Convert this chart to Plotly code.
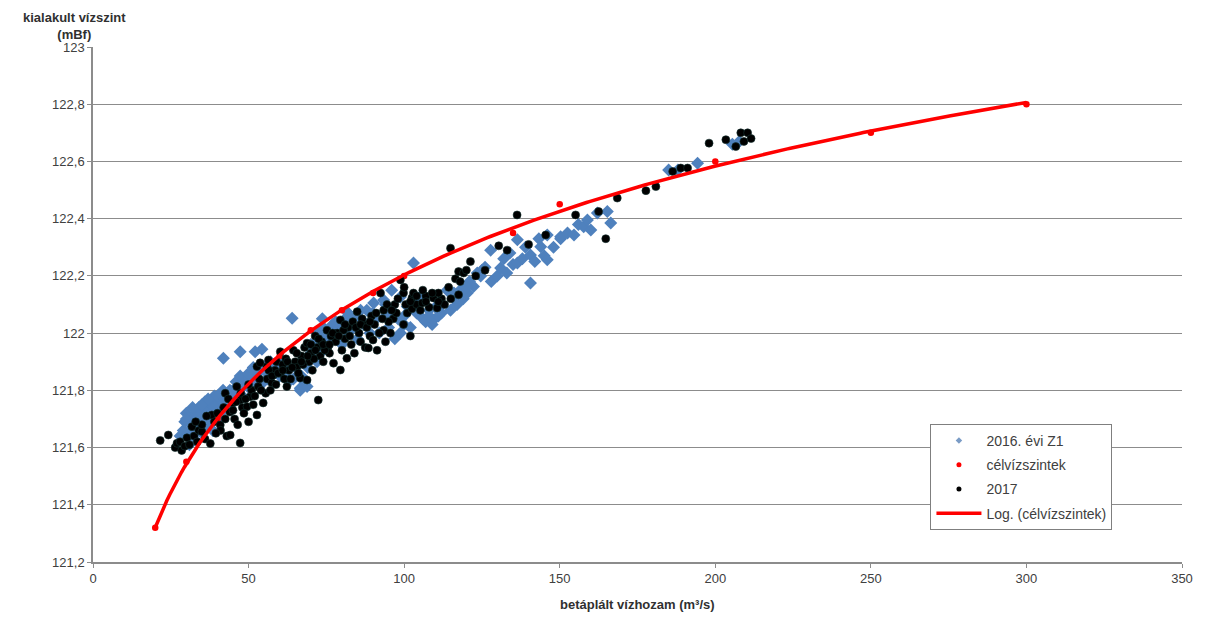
import numpy as np
import plotly.graph_objects as go

# 2016. évi Z1 (blue diamonds)
z1_x = [28, 29, 29.5, 30, 30.5, 31, 31.5, 32, 32.5, 33, 33.5, 34, 34.5, 35, 35.5, 36, 36.5, 37, 37.5, 38,
        38.5, 39, 39.5, 40, 40.5, 41, 41.8, 42, 43, 43.5, 44, 45, 45.5, 46, 47, 47.3, 48, 49, 50, 51,
        51.5, 52, 53, 54, 55, 56, 57, 58, 41.9, 47.3, 52.1, 54.3, 64,
        59, 60, 61, 62, 63, 64.4, 65, 66.6, 66.6, 67, 68, 68.8, 69, 70, 71, 72, 73, 73.7, 74, 75, 76,
        77, 78, 79, 80, 81, 82, 83.7, 84, 85, 86, 87, 88, 89, 90.2, 91, 92, 93.4, 94, 95, 96, 96,
        97, 98, 98.8, 98.8, 100, 101,
        102, 103, 104, 105.2, 106, 106.9, 108, 109, 109.4, 110, 111, 112, 113.8, 114.9, 116, 117, 118, 119,
        120.3, 121, 122.3, 123.5, 124.6, 126, 127.8, 128, 129.9, 131, 132, 133, 134, 135, 136.4, 136.4,
        138, 139, 140.6, 140.6, 142, 143.3, 143.9, 145, 146, 146, 148, 150.3, 150.3, 152.5, 154.6, 156,
        157.7, 158.9, 160, 162.1, 165.3, 166.4,
        185, 188, 194.3, 207.7, 205.5,
        30, 31, 32, 33, 34, 35, 36, 37, 38, 39, 40, 42, 44, 46, 48, 50, 53, 56, 60, 62,
        70, 72, 74, 78, 82, 86, 90, 94, 100, 104, 108, 112, 116, 120, 125]
z1_y = [121.64, 121.66, 121.69, 121.72, 121.65, 121.61, 121.68, 121.70, 121.63, 121.72, 121.67, 121.74, 121.69, 121.65, 121.72, 121.76, 121.68, 121.73, 121.70, 121.75,
        121.66, 121.78, 121.72, 121.75, 121.70, 121.77, 121.80, 121.73, 121.76, 121.79, 121.74, 121.80, 121.77, 121.83, 121.80, 121.85, 121.78, 121.83, 121.81, 121.85,
        121.88, 121.83, 121.86, 121.82, 121.87, 121.84, 121.90, 121.87, 121.912, 121.935, 121.935, 121.944, 122.052,
        121.88, 121.85, 121.90, 121.87, 121.83, 121.84, 121.88, 121.807, 121.80, 121.85, 121.83, 121.813, 121.88, 121.93, 121.96, 121.90, 121.98, 122.05, 121.94, 122.00, 121.97,
        122.03, 121.99, 122.02, 121.96, 122.05, 122.00, 122.02, 122.06, 121.98, 122.08, 122.03, 122.08, 122.00, 122.105, 122.05, 122.00, 122.116, 122.06, 122.02, 122.15, 122.08,
        121.98, 122.05, 122.00, 122.126, 122.06, 122.093,
        122.02, 122.245, 122.07, 122.128, 122.05, 122.04, 122.08, 122.03, 122.046, 122.09, 122.06, 122.10, 122.15, 122.08, 122.12, 122.10, 122.15, 122.12,
        122.14, 122.18, 122.163, 122.21, 122.20, 122.23, 122.29, 122.18, 122.20, 122.228, 122.26, 122.21, 122.28, 122.24, 122.245, 122.326,
        122.26, 122.30, 122.273, 122.175, 122.25, 122.33, 122.302, 122.27, 122.256, 122.343, 122.30, 122.33, 122.337, 122.35, 122.343, 122.38,
        122.372, 122.395, 122.36, 122.42, 122.425, 122.385,
        122.57, 122.57, 122.594, 122.67, 122.66,
        121.70, 121.66, 121.74, 121.68, 121.71, 121.75, 121.70, 121.77, 121.72, 121.74, 121.78, 121.77, 121.80, 121.78, 121.82, 121.86, 121.88, 121.89, 121.90, 121.85,
        121.96, 122.00, 122.02, 122.04, 122.07, 122.05, 122.07, 122.10, 122.03, 122.11, 122.06, 122.07, 122.14, 122.16, 122.22]

# célvízszintek (red target levels)
cel_x = [20, 30, 40, 50, 60, 70, 80, 90, 100, 135, 150, 200, 250, 300]
cel_y = [121.32, 121.55, 121.70, 121.82, 121.92, 122.01, 122.08, 122.14, 122.20, 122.35, 122.45, 122.60, 122.70, 122.80]

# 2017 (black dots)
y17_x = [21.6, 24.2, 26.4, 27, 28, 28.5, 29.5, 30.2, 31, 31.8, 32.5, 33.5, 34, 35, 35, 36, 37.7, 38.2, 39, 40.9,
         41, 42.5, 43, 44.1, 47.3, 42.5, 45, 44, 46.2, 47.3, 48, 49.5, 50.5, 51, 52.7, 53.1, 54.7, 55.5, 56, 57.5,
         58, 55.9, 60.2, 62.3, 52.7, 53.7, 56.4, 58.5, 59, 60.2, 61, 62, 63, 64.4, 65, 65.5, 66.6, 67, 68, 68.8,
         68.8, 69.5, 70, 70.5, 71.4, 72, 72.4, 73, 73.5, 74, 75.2, 75.5, 76, 77.3, 78, 78.5, 79.5, 79.5, 80, 81,
         81.6, 82, 83, 84, 84.9, 85.5, 86, 87, 87.5, 88.5, 89, 90, 90.5, 91.3, 92.4, 93.4, 93.4, 94, 95.6, 96.5,
         97, 98.8, 99.8, 99.8, 101, 102, 102.5, 102.5, 104, 105.2, 105.8, 107, 108, 109.4, 110.6, 112, 114.3, 114.9, 116.5, 117.5,
         117.5, 119.1, 121.3, 123, 126, 130.4, 133.1, 136.3, 140, 145.5, 155.1, 162.5, 164.8, 168.5, 177.7, 180.9, 186.3, 188.9, 191.1, 198,
         203.4, 206.6, 208.2, 209.2, 210.4, 211.5,
         45.5, 46.5, 48.5, 50, 51.5, 57, 58.8, 61.5, 63.5, 66, 67.5, 71, 74.5, 76.5, 80.5, 83.5, 86.5, 89.5, 92, 95,
         97.5, 100.5, 103, 106, 111, 113,
         33, 36.5, 39.5, 40, 42, 43.5, 45, 46, 47.5, 49, 50, 52, 53.5, 54, 56.5, 57.5, 59.5, 61, 62.5, 64,
         65.5, 67, 69, 70, 71.5, 72.5, 74, 76, 77, 79, 81, 82.5, 84.5, 86, 88, 89, 91, 93, 94.5, 96,
         98, 100, 102, 104, 107, 109, 111, 115, 118, 120]
y17_y = [121.625, 121.644, 121.60, 121.615, 121.62, 121.59, 121.605, 121.634, 121.61, 121.673, 121.64, 121.62, 121.66, 121.656, 121.68, 121.63, 121.614, 121.714, 121.69, 121.679,
         121.66, 121.70, 121.64, 121.644, 121.616, 121.79, 121.756, 121.724, 121.813, 121.766, 121.74, 121.743, 121.778, 121.80, 121.714, 121.813, 121.756, 121.79, 121.84, 121.826,
         121.854, 121.883, 121.86, 121.813, 121.883, 121.896, 121.906, 121.87, 121.90, 121.935, 121.89, 121.91, 121.87, 121.94, 121.90, 121.88, 121.843, 121.92, 121.95, 121.836,
         121.965, 121.90, 121.93, 121.87, 121.99, 121.95, 121.766, 121.92, 121.97, 121.90, 122.01, 121.95, 121.93, 121.895, 121.97, 122.00, 122.046, 121.871, 121.94, 121.98,
         121.912, 122.02, 121.96, 121.93, 122.075, 122.00, 121.97, 122.03, 121.95, 121.948, 121.99, 121.976, 122.03, 121.94, 122.14, 122.01, 122.08, 121.97, 122.00, 122.05,
         122.10, 122.186, 122.14, 122.03, 122.07, 121.99, 122.123, 122.085, 122.10, 122.08, 122.105, 122.13, 122.09, 122.123, 122.088, 122.12, 122.16, 122.297, 122.19, 122.215,
         122.134, 122.21, 122.25, 122.20, 122.22, 122.305, 122.29, 122.413, 122.31, 122.343, 122.413, 122.425, 122.33, 122.472, 122.498, 122.512, 122.565, 122.577, 122.577, 122.664,
         122.676, 122.652, 122.70, 122.67, 122.70, 122.68,
         121.70, 121.68, 121.72, 121.69, 121.75, 121.80, 121.82, 121.84, 121.84, 121.86, 121.89, 121.91, 121.94, 121.99, 122.01, 122.04, 122.05, 122.06, 122.00, 122.04,
         122.07, 122.10, 122.14, 122.15, 122.14, 122.10,
         121.69, 121.71, 121.65, 121.72, 121.74, 121.77, 121.73, 121.76, 121.79, 121.77, 121.82, 121.78, 121.84, 121.80, 121.87, 121.85, 121.86, 121.87, 121.90, 121.88,
         121.93, 121.90, 121.92, 121.96, 121.94, 121.98, 121.96, 121.96, 122.00, 121.99, 122.03, 121.99, 122.02, 122.03, 122.02, 122.04, 122.07, 122.05, 122.10, 122.08,
         122.12, 122.16, 122.11, 122.13, 122.11, 122.14, 122.11, 122.12, 122.18, 122.22]

x_ticks = [0, 50, 100, 150, 200, 250, 300, 350]
y_ticks = [121.2, 121.4, 121.6, 121.8, 122.0, 122.2, 122.4, 122.6, 122.8, 123.0]
y_tick_text = ["121,2", "121,4", "121,6", "121,8", "122", "122,2", "122,4", "122,6", "122,8", "123"]

BLUE = "#4F81BD"
RED = "#FF0000"
BLACK = "#000000"

# logarithmic trendline fitted to the target levels
a, b = np.polyfit(np.log(cel_x), cel_y, 1)
fit_x = np.linspace(min(cel_x), max(cel_x), 300)
fit_y = a * np.log(fit_x) + b

fig = go.Figure()
fig.add_trace(go.Scatter(x=z1_x, y=z1_y, mode="markers", name="2016. évi Z1", showlegend=False,
                         marker=dict(symbol="diamond", size=10, color=BLUE)))
fig.add_trace(go.Scatter(x=cel_x, y=cel_y, mode="markers", name="célvízszintek", showlegend=False,
                         marker=dict(symbol="circle", size=6.5, color=RED)))
fig.add_trace(go.Scatter(x=y17_x, y=y17_y, mode="markers", name="2017", showlegend=False,
                         marker=dict(symbol="circle", size=8, color=BLACK,
                                     line=dict(color="#12302f", width=0.6))))
fig.add_trace(go.Scatter(x=fit_x, y=fit_y, mode="lines", name="Log. (célvízszintek)", showlegend=False,
                         line=dict(color=RED, width=3.5)))

# legend entries (small symbols, as in the original legend)
legend_items = [
    ("2016. évi Z1", dict(mode="markers", marker=dict(symbol="diamond", size=5, color="#7a9cc6"))),
    ("célvízszintek", dict(mode="markers", marker=dict(symbol="circle", size=5, color=RED))),
    ("2017", dict(mode="markers", marker=dict(symbol="circle", size=5, color=BLACK))),
    ("Log. (célvízszintek)", dict(mode="lines", line=dict(color=RED, width=3.5))),
]
for i, (nm, kw) in enumerate(legend_items):
    fig.add_trace(go.Scatter(x=[None], y=[None], name=nm, legendgroup=f"g{i}", showlegend=True, **kw))

font_family = "Liberation Sans, Arial, sans-serif"
fig.update_layout(
    width=1206, height=618,
    margin=dict(l=85, r=32, t=39, b=64),
    paper_bgcolor="white", plot_bgcolor="white",
    font=dict(family=font_family, size=13, color="#404040"),
    showlegend=True,
    legend=dict(x=0.769, y=0.268, xanchor="left", yanchor="top",
                bgcolor="white", bordercolor="#7f7f7f", borderwidth=1,
                font=dict(size=14, color="#404040"), tracegroupgap=3, itemwidth=45),
    xaxis=dict(range=[0, 350], tickvals=x_ticks, ticktext=[str(v) for v in x_ticks],
               showgrid=False, zeroline=False, showline=True, linecolor="#8c8c8c", linewidth=1.5,
               ticks="outside", ticklen=4, tickcolor="#8c8c8c", tickfont=dict(size=13, color="#404040")),
    yaxis=dict(range=[121.2, 123.0], tickvals=y_ticks, ticktext=y_tick_text,
               showgrid=True, gridcolor="#8c8c8c", gridwidth=1, zeroline=False,
               showline=True, linecolor="#8c8c8c", linewidth=1.5,
               ticks="outside", ticklen=4, tickcolor="#8c8c8c", tickfont=dict(size=13, color="#404040")),
    annotations=[
        dict(text="<b>kialakult vízszint</b><br><b>(mBf)</b>", xref="paper", yref="paper",
             x=-0.017, y=1.04, xanchor="center", yanchor="middle", showarrow=False,
             font=dict(size=13, color="#303030")),
        dict(text="<b>betáplált vízhozam (m³/s)</b>", xref="paper", yref="paper",
             x=0.5, y=-0.083, xanchor="center", yanchor="middle", showarrow=False,
             font=dict(size=13, color="#303030")),
    ],
)

fig.write_html("out.html")
